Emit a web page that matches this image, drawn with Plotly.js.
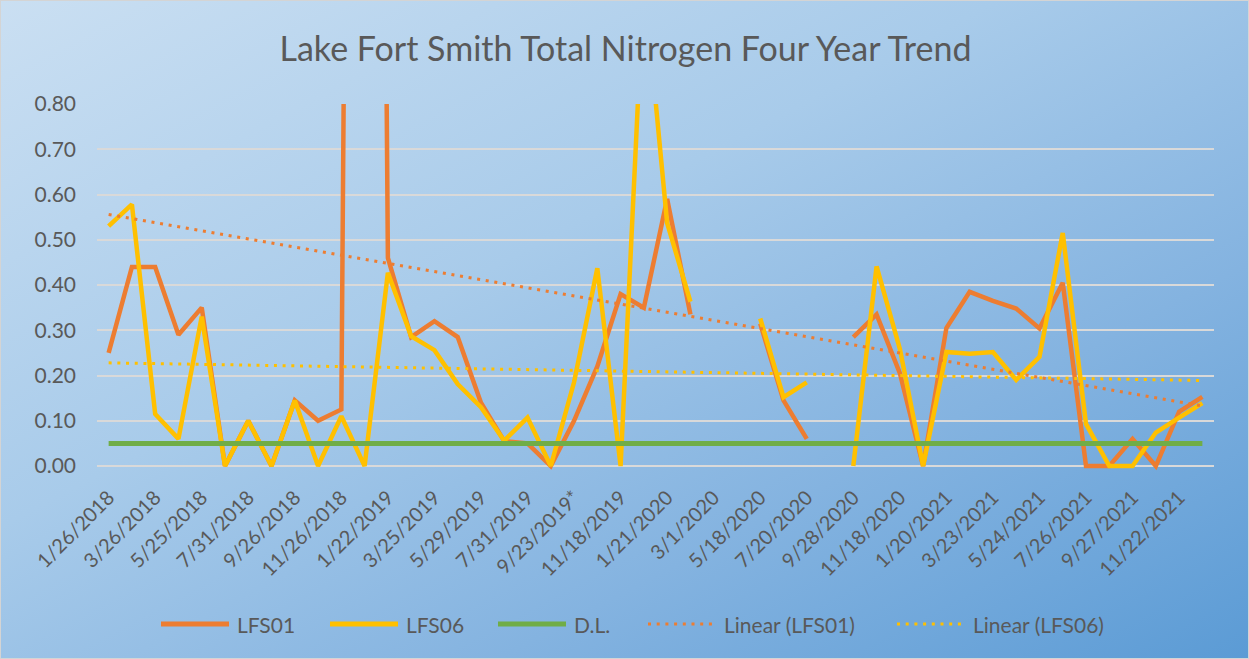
<!DOCTYPE html>
<html>
<head>
<meta charset="utf-8">
<script src="https://cdn.plot.ly/plotly-3.0.1.min.js"></script>
<style>
  html, body { margin: 0; padding: 0; }
  #chart {
    width: 1249px;
    height: 659px;
    box-sizing: border-box;
    border: 1px solid #d4d4d4;
    background: linear-gradient(to bottom right, #cadff2 0%, #a8cbea 40%, #84b3e0 70%, #5b9bd5 100%);
  }
</style>
</head>
<body>
<div id="chart"></div>
<script>
// tick labels, one for every other sample
const tickLabels = [
  '1/26/2018', '3/26/2018', '5/25/2018', '7/31/2018', '9/26/2018', '11/26/2018',
  '1/22/2019', '3/25/2019', '5/29/2019', '7/31/2019', '9/23/2019*', '11/18/2019',
  '1/21/2020', '3/1/2020', '5/18/2020', '7/20/2020', '9/28/2020', '11/18/2020',
  '1/20/2021', '3/23/2021', '5/24/2021', '7/26/2021', '9/27/2021', '11/22/2021',
];

// total nitrogen (mg/L), null = no sample
const lfs01 = [
  0.25, 0.44, 0.44, 0.29, 0.35, 0.0, 0.10, 0.0, 0.145, 0.10,
  0.125, 7.0, 0.46, 0.285, 0.32, 0.285, 0.14, 0.055, 0.05, 0.0,
  0.10, 0.22, 0.38, 0.35, 0.59, 0.335, null, null, 0.315, 0.145,
  0.06, null, 0.285, 0.335, 0.205, 0.0, 0.305, 0.385, 0.365, 0.348,
  0.304, 0.405, 0.0, 0.0, 0.06, 0.0, 0.12, 0.153,
];
const lfs06 = [
  0.53, 0.578, 0.115, 0.06, 0.33, 0.0, 0.10, 0.0, 0.145, 0.0,
  0.11, 0.0, 0.427, 0.287, 0.256, 0.181, 0.13, 0.056, 0.107, 0.0,
  0.185, 0.437, 0.0, 1.08, 0.537, 0.363, null, null, 0.326, 0.152,
  0.185, null, 0.0, 0.441, 0.259, 0.0, 0.252, 0.248, 0.252, 0.19,
  0.241, 0.515, 0.093, 0.0, 0.0, 0.074, 0.107, 0.139,
];

const detectionLimit = [0.05, 0.05];
// Excel linear trend lines, value at first and last sample
const trend01 = [0.556, 0.133];
const trend06 = [0.228, 0.189];

const idx = lfs01.map((_, i) => i);
const ends = [0, idx.length - 1];

const ORANGE = '#ED7D31';
const YELLOW = '#FFC000';
const GREEN = '#70AD47';
const TEXT = '#595959';
const FONT = 'Lato, "Open Sans", sans-serif';
const DOTS = '3px,5.7px';

const series = [
  { name: 'LFS01', x: idx, y: lfs01, line: { color: ORANGE, width: 4.5 } },
  { name: 'LFS06', x: idx, y: lfs06, line: { color: YELLOW, width: 4.5 } },
  { name: 'D.L.', x: ends, y: detectionLimit, line: { color: GREEN, width: 5 } },
  { name: 'Linear (LFS01)', x: ends, y: trend01, line: { color: ORANGE, width: 3, dash: DOTS } },
  { name: 'Linear (LFS06)', x: ends, y: trend06, line: { color: YELLOW, width: 3, dash: DOTS } },
];

const data = series.map((s) => ({
  ...s,
  type: 'scatter',
  mode: 'lines',
  hoverinfo: 'x+y+name',
}));

// plot area in pixels (from margins below)
const M = { l: 96, r: 36, t: 103, b: 189 };
const W = 1249, H = 659;
const px2x = (px) => (px - M.l) / (W - M.l - M.r);
const px2y = (py) => (H - M.b - py) / (H - M.t - M.b);

// legend drawn by hand so the swatches match the Excel ones
const legendY = 623;
const legendStart = [158, 327, 495, 645, 894];
const legendShapes = [];
const legendText = [];
series.forEach((s, i) => {
  const x0 = legendStart[i];
  legendShapes.push({
    type: 'line', xref: 'paper', yref: 'paper',
    x0: px2x(x0 + 2), x1: px2x(x0 + 70), y0: px2y(legendY), y1: px2y(legendY),
    line: { color: s.line.color, width: s.line.dash ? 3 : 5, dash: s.line.dash || 'solid' },
  });
  legendText.push({
    xref: 'paper', yref: 'paper', x: px2x(x0 + 76), y: px2y(legendY),
    xanchor: 'left', yanchor: 'middle', showarrow: false,
    text: s.name, font: { size: 21, color: TEXT, family: FONT },
  });
});

const layout = {
  width: W,
  height: H,
  paper_bgcolor: 'rgba(0,0,0,0)',
  plot_bgcolor: 'rgba(0,0,0,0)',
  font: { family: FONT, color: TEXT },
  title: {
    text: 'Lake Fort Smith Total Nitrogen Four Year Trend',
    font: { size: 34, color: TEXT, family: FONT },
    x: 0.5, xanchor: 'center',
    y: 0.927, yanchor: 'middle',
  },
  margin: M,
  xaxis: {
    range: [-0.5, 47.5],
    tickmode: 'array',
    tickvals: tickLabels.map((_, i) => i * 2),
    ticktext: tickLabels,
    tickangle: -45,
    tickfont: { size: 20, color: TEXT },
    showgrid: false,
    zeroline: false,
    showline: false,
    ticks: '',
    ticklabelstandoff: 10,
  },
  yaxis: {
    range: [-0.011, 0.8],
    tickvals: [0, 0.1, 0.2, 0.3, 0.4, 0.5, 0.6, 0.7, 0.8],
    tickformat: '.2f',
    tickfont: { size: 21, color: TEXT },
    showgrid: true,
    gridcolor: '#D9D9D9',
    gridwidth: 1.5,
    zeroline: false,
    ticks: '',
    ticklabelstandoff: 20,
  },
  showlegend: false,
  shapes: legendShapes,
  annotations: legendText,
};

Plotly.newPlot('chart', data, layout, { displayModeBar: false });
</script>
</body>
</html>
